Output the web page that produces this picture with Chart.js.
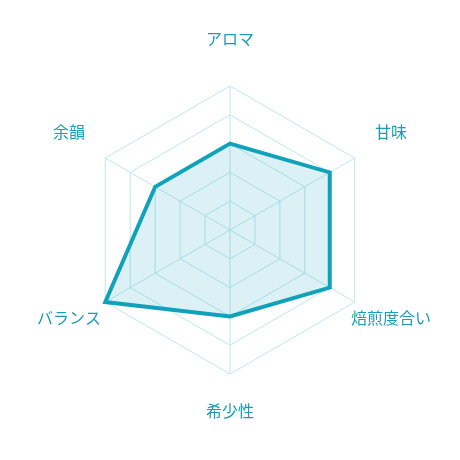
<!DOCTYPE html>
<html>
<head>
<meta charset="utf-8">
<script src="https://cdn.jsdelivr.net/npm/chart.js@4"></script>
<style>
  html, body { margin: 0; padding: 0; background: #fff; }
  #wrap { width: 460px; height: 460px; }
</style>
</head>
<body>
<div id="wrap"><canvas id="radar"></canvas></div>
<script>
// Categories clockwise from the top
const categories = ['アロマ', '甘味', '焙煎度合い', '希少性', 'バランス', '余韻'];
const scores = [3, 4, 4, 3, 5, 3];
const scaleMax = 5;

const LINE = '#10a2ba';
const FILL = 'rgba(16,162,186,0.15)';
const GRID = '#bfe6ec';
const LABEL = '#1a9db5';

// labels are centred along each axis, a bit beyond the outer ring
const axisLabels = {
  id: 'axisLabels',
  afterDraw(chart) {
    const r = chart.scales.r;
    const ctx = chart.ctx;
    ctx.save();
    ctx.font = "16px 'Noto Sans CJK JP'";
    ctx.fillStyle = LABEL;
    ctx.textAlign = 'center';
    ctx.textBaseline = 'middle';
    categories.forEach((label, i) => {
      const p = r.getPointPosition(i, r.drawingArea + 42);
      ctx.fillText(label, p.x, p.y - 5);
    });
    ctx.restore();
  }
};

new Chart(document.getElementById('radar'), {
  type: 'radar',
  data: {
    labels: categories,
    datasets: [{
      data: scores,
      borderColor: LINE,
      backgroundColor: FILL,
      borderWidth: 4,
      fill: true,
      pointRadius: 0,
      pointHoverRadius: 0,
    }],
  },
  options: {
    responsive: true,
    maintainAspectRatio: false,
    animation: false,
    layout: { padding: 86 },
    plugins: { legend: { display: false }, tooltip: { enabled: false } },
    scales: {
      r: {
        min: 0,
        max: scaleMax,
        ticks: { display: false, stepSize: 1 },
        grid: { color: GRID, lineWidth: 1 },
        angleLines: { color: GRID, lineWidth: 1 },
        pointLabels: { display: false },
      },
    },
  },
  plugins: [axisLabels],
});
</script>
</body>
</html>
